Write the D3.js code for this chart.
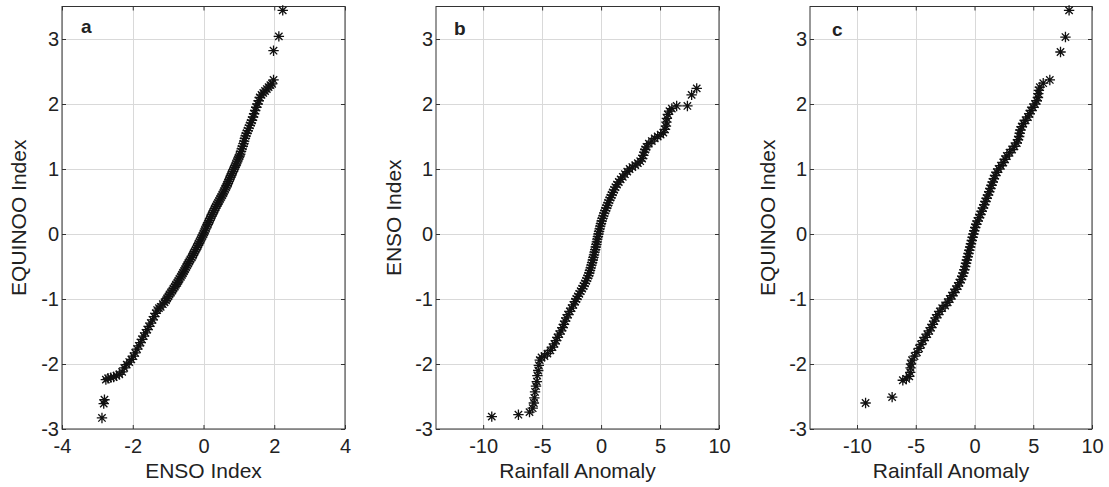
<!DOCTYPE html>
<html><head><meta charset="utf-8">
<script src="https://cdn.jsdelivr.net/npm/d3@7"></script>
<style>
body{margin:0;background:#fff}
svg text{font-family:Arial,"Liberation Sans",sans-serif;fill:#222}
</style>
</head><body>
<svg id="chart" width="1109" height="487"></svg>
<script>
// ---------- data ----------
const yTicks = [-3, -2, -1, 0, 1, 2, 3];
const xTicksA = [-4, -2, 0, 2, 4];
const xTicksBC = [-10, -5, 0, 5, 10];
const panelLetters = ["a", "b", "c"];
const xLabels = ["ENSO Index", "Rainfall Anomaly", "Rainfall Anomaly"];
const yLabels = ["EQUINOO Index", "ENSO Index", "EQUINOO Index"];

// Panel a: ENSO Index quantiles (x) vs EQUINOO Index quantiles (y)
const qqA = [[-2.87,-2.83],[-2.82,-2.61],[-2.80,-2.55],
[-2.76,-2.24],[-2.70,-2.22],[-2.62,-2.21],[-2.54,-2.20],[-2.46,-2.18],[-2.38,-2.16],[-2.30,-2.12],[-2.24,-2.06],[-2.17,-2.01],[-2.10,-1.97],[-2.04,-1.93],[-1.98,-1.88],[-1.93,-1.83],[-1.88,-1.77],[-1.83,-1.72],[-1.78,-1.67],[-1.74,-1.62],[-1.69,-1.57],[-1.64,-1.52],[-1.59,-1.47],[-1.54,-1.42],[-1.49,-1.37],[-1.44,-1.32],[-1.40,-1.27],[-1.35,-1.22],[-1.31,-1.17],[-1.26,-1.14],[-1.21,-1.12],[-1.15,-1.08],[-1.10,-1.05],[-1.06,-1.02],[-1.03,-0.99],[-0.99,-0.96],[-0.96,-0.93],[-0.92,-0.90],[-0.88,-0.87],[-0.85,-0.84],[-0.81,-0.81],[-0.78,-0.78],[-0.74,-0.75],[-0.71,-0.72],[-0.68,-0.69],[-0.64,-0.66],[-0.61,-0.63],[-0.58,-0.60],[-0.55,-0.57],[-0.52,-0.54],[-0.49,-0.51],[-0.46,-0.48],[-0.43,-0.45],[-0.40,-0.42],[-0.37,-0.39],[-0.33,-0.36],[-0.30,-0.33],[-0.28,-0.30],[-0.25,-0.27],[-0.22,-0.24],[-0.19,-0.21],[-0.16,-0.18],[-0.14,-0.15],[-0.11,-0.12],[-0.08,-0.09],[-0.06,-0.06],[-0.03,-0.03],[0.00,0.00],[0.02,0.03],[0.04,0.06],[0.07,0.09],[0.09,0.12],[0.12,0.15],[0.14,0.18],[0.17,0.21],[0.19,0.24],[0.22,0.27],[0.24,0.30],[0.27,0.33],[0.30,0.36],[0.32,0.39],[0.35,0.42],[0.38,0.45],[0.41,0.48],[0.44,0.51],[0.47,0.54],[0.50,0.57],[0.53,0.60],[0.56,0.63],[0.58,0.66],[0.61,0.69],[0.64,0.72],[0.66,0.75],[0.69,0.78],[0.71,0.81],[0.73,0.84],[0.76,0.87],[0.78,0.90],[0.80,0.93],[0.83,0.96],[0.85,0.99],[0.88,1.02],[0.90,1.05],[0.92,1.08],[0.95,1.11],[0.97,1.14],[0.99,1.17],[1.02,1.20],[1.04,1.23],[1.06,1.27],[1.08,1.31],[1.11,1.35],[1.13,1.39],[1.15,1.43],[1.17,1.47],[1.19,1.51],[1.22,1.55],[1.25,1.59],[1.28,1.63],[1.31,1.67],[1.34,1.71],[1.37,1.75],[1.40,1.80],[1.43,1.85],[1.46,1.90],[1.49,1.95],[1.53,2.00],[1.56,2.05],[1.59,2.10],[1.64,2.14],[1.69,2.17],[1.74,2.20],[1.79,2.23],[1.84,2.26],[1.89,2.29],[1.94,2.31],[1.98,2.37],[1.98,2.82],[2.13,3.04],[2.24,3.44]];

// Panel b: Rainfall Anomaly quantiles (x) vs ENSO Index quantiles (y)
const qqB = [[-9.27,-2.81],[-7.01,-2.78],[-6.07,-2.74],[-5.80,-2.68],[-5.70,-2.60],[-5.66,-2.52],[-5.60,-2.43],[-5.52,-2.34],[-5.45,-2.27],[-5.40,-2.18],[-5.33,-2.10],[-5.28,-2.02],[-5.20,-1.94],[-5.05,-1.90],[-4.80,-1.88],[-4.55,-1.84],[-4.30,-1.79],[-4.12,-1.74],[-3.95,-1.69],[-3.82,-1.64],[-3.70,-1.59],[-3.55,-1.54],[-3.40,-1.49],[-3.27,-1.44],[-3.15,-1.39],[-3.05,-1.34],[-2.95,-1.29],[-2.80,-1.24],[-2.65,-1.19],[-2.50,-1.14],[-2.35,-1.09],[-2.20,-1.04],[-2.10,-1.00],[-1.97,-0.96],[-1.85,-0.92],[-1.73,-0.88],[-1.60,-0.84],[-1.48,-0.80],[-1.37,-0.76],[-1.27,-0.72],[-1.17,-0.68],[-1.08,-0.64],[-1.00,-0.60],[-0.94,-0.56],[-0.88,-0.52],[-0.82,-0.48],[-0.76,-0.44],[-0.70,-0.40],[-0.65,-0.36],[-0.60,-0.32],[-0.55,-0.28],[-0.50,-0.24],[-0.45,-0.20],[-0.40,-0.16],[-0.36,-0.12],[-0.32,-0.08],[-0.27,-0.04],[-0.22,0.00],[-0.17,0.04],[-0.12,0.08],[-0.07,0.12],[-0.01,0.16],[0.05,0.20],[0.12,0.24],[0.19,0.28],[0.27,0.32],[0.35,0.36],[0.44,0.40],[0.53,0.44],[0.60,0.48],[0.70,0.52],[0.80,0.56],[0.90,0.60],[1.00,0.64],[1.10,0.68],[1.22,0.72],[1.35,0.76],[1.50,0.80],[1.66,0.84],[1.84,0.88],[2.02,0.92],[2.22,0.96],[2.42,1.00],[2.65,1.03],[2.90,1.06],[3.12,1.09],[3.32,1.12],[3.48,1.16],[3.58,1.21],[3.66,1.26],[3.74,1.30],[3.85,1.34],[4.05,1.39],[4.30,1.43],[4.55,1.47],[4.80,1.50],[5.05,1.53],[5.28,1.56],[5.42,1.61],[5.50,1.66],[5.54,1.72],[5.58,1.78],[5.66,1.84],[5.80,1.89],[6.00,1.93],[6.41,1.97],[7.32,1.97],[7.68,2.14],[8.11,2.24]];

// Panel c: Rainfall Anomaly quantiles (x) vs EQUINOO Index quantiles (y)
const qqC = [[-9.27,-2.60],[-7.01,-2.51],[-6.10,-2.25],[-5.80,-2.23],[-5.55,-2.19],[-5.47,-2.13],[-5.44,-2.06],[-5.40,-2.00],[-5.32,-1.94],[-5.10,-1.88],[-4.90,-1.82],[-4.72,-1.76],[-4.55,-1.70],[-4.38,-1.64],[-4.20,-1.59],[-4.02,-1.54],[-3.85,-1.49],[-3.70,-1.44],[-3.55,-1.39],[-3.42,-1.34],[-3.30,-1.29],[-3.12,-1.24],[-2.95,-1.19],[-2.75,-1.14],[-2.50,-1.10],[-2.28,-1.05],[-2.10,-1.00],[-1.92,-0.95],[-1.75,-0.90],[-1.58,-0.85],[-1.42,-0.80],[-1.28,-0.75],[-1.15,-0.70],[-1.04,-0.65],[-0.94,-0.60],[-0.86,-0.55],[-0.79,-0.50],[-0.72,-0.45],[-0.65,-0.40],[-0.58,-0.35],[-0.51,-0.30],[-0.44,-0.25],[-0.37,-0.20],[-0.30,-0.15],[-0.23,-0.10],[-0.16,-0.05],[-0.09,0.00],[-0.02,0.05],[0.06,0.10],[0.15,0.15],[0.26,0.20],[0.38,0.25],[0.50,0.30],[0.61,0.35],[0.72,0.40],[0.83,0.45],[0.93,0.50],[1.04,0.55],[1.15,0.60],[1.25,0.65],[1.35,0.70],[1.45,0.75],[1.55,0.80],[1.65,0.85],[1.75,0.90],[1.90,0.95],[2.05,1.00],[2.25,1.05],[2.45,1.10],[2.60,1.15],[2.75,1.20],[2.98,1.25],[3.20,1.30],[3.40,1.35],[3.60,1.40],[3.70,1.45],[3.80,1.50],[3.85,1.55],[3.90,1.60],[4.02,1.65],[4.15,1.70],[4.35,1.75],[4.55,1.80],[4.68,1.85],[4.80,1.90],[4.98,1.95],[5.15,2.00],[5.30,2.05],[5.40,2.10],[5.43,2.16],[5.48,2.21],[5.56,2.26],[5.85,2.32],[6.41,2.37],[7.32,2.80],[7.74,3.03],[8.05,3.44]];

// ---------- layout ----------
const panels = [
  {data: qqA, xDomain: [-4, 4],   xTicks: xTicksA,  left: 62,  right: 345,  yLabX: 26,  letterX: 81,  letterY: 33},
  {data: qqB, xDomain: [-14, 10], xTicks: xTicksBC, left: 436, right: 719,  yLabX: 401, letterX: 454, letterY: 35},
  {data: qqC, xDomain: [-14, 10], xTicks: xTicksBC, left: 810, right: 1092, yLabX: 775, letterX: 832, letterY: 36}
];
const plotTop = 6.5, plotBottom = 429;
const tickFont = 20, labelFont = 21;
const mr = 5.2, dd = mr * 0.7071;
const asterisk = `M${-mr},0L${mr},0M0,${-mr}L0,${mr}M${-dd},${-dd}L${dd},${dd}M${-dd},${dd}L${dd},${-dd}`;
const fmt = d => String(d);  // plain hyphen-minus like the original

const svg = d3.select("#chart");

panels.forEach((p, i) => {
  const x = d3.scaleLinear().domain(p.xDomain).range([p.left, p.right]);
  const y = d3.scaleLinear().domain([-3, 3.5]).range([plotBottom, plotTop]);
  const g = svg.append("g");

  // grid
  g.append("g").selectAll("line").data(p.xTicks).join("line")
    .attr("x1", d => Math.round(x(d)) + 0.5).attr("x2", d => Math.round(x(d)) + 0.5)
    .attr("y1", plotTop).attr("y2", plotBottom)
    .attr("stroke", "#d9d9d9").attr("stroke-width", 1);
  g.append("g").selectAll("line").data(yTicks).join("line")
    .attr("y1", d => Math.round(y(d)) + 0.5).attr("y2", d => Math.round(y(d)) + 0.5)
    .attr("x1", p.left).attr("x2", p.right)
    .attr("stroke", "#d9d9d9").attr("stroke-width", 1);

  // axes
  const style = sel => {
    sel.selectAll(".domain").remove();
    sel.selectAll(".tick line").attr("stroke", "#333");
    sel.selectAll("text").attr("font-size", tickFont).attr("font-family", 'Arial,"Liberation Sans",sans-serif').attr("fill", "#222");
  };
  g.append("g").attr("transform", `translate(0,${plotBottom})`)
    .call(d3.axisBottom(x).tickValues(p.xTicks).tickSize(-4).tickPadding(10).tickFormat(fmt))
    .call(style);
  g.append("g").attr("transform", `translate(0,${plotTop})`)
    .call(d3.axisTop(x).tickValues(p.xTicks).tickSize(-4).tickFormat(""))
    .call(style);
  g.append("g").attr("transform", `translate(${p.left},0)`)
    .call(d3.axisLeft(y).tickValues(yTicks).tickSize(-4).tickPadding(3).tickFormat(fmt))
    .call(style);
  g.append("g").attr("transform", `translate(${p.right},0)`)
    .call(d3.axisRight(y).tickValues(yTicks).tickSize(-4).tickFormat(""))
    .call(style);

  // frame
  g.append("rect").attr("x", p.left).attr("y", plotTop)
    .attr("width", p.right - p.left).attr("height", plotBottom - plotTop)
    .attr("fill", "none").attr("stroke", "#333").attr("stroke-width", 1);

  // points
  g.append("g").selectAll("path").data(p.data).join("path")
    .attr("transform", d => `translate(${x(d[0])},${y(d[1])})`)
    .attr("d", asterisk)
    .attr("fill", "none").attr("stroke", "#111").attr("stroke-width", 1.3);

  // labels
  g.append("text").attr("x", (p.left + p.right) / 2).attr("y", 478)
    .attr("text-anchor", "middle").attr("font-size", labelFont).text(xLabels[i]);
  g.append("text").attr("transform", `translate(${p.yLabX},${(plotTop + plotBottom) / 2}) rotate(-90)`)
    .attr("text-anchor", "middle").attr("font-size", labelFont).text(yLabels[i]);
  g.append("text").attr("x", p.letterX).attr("y", p.letterY)
    .attr("font-size", 19).attr("font-weight", "bold").text(panelLetters[i]);
});
</script>
</body></html>
